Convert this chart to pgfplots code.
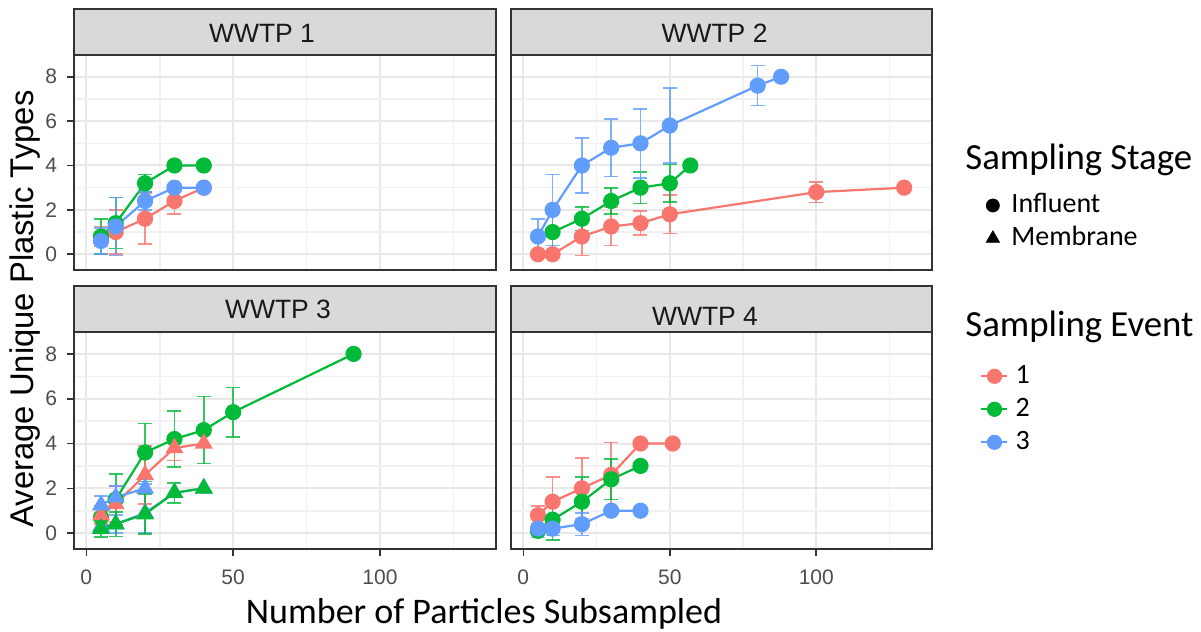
\documentclass[border=0pt]{standalone}
\usepackage{pgfplots}
\pgfplotsset{compat=1.18}
\usepackage{fontspec}
\setmainfont{Liberation Sans}
\newfontfamily\calibri{Carlito}
\definecolor{c1}{HTML}{F8766D}
\definecolor{c2}{HTML}{00BA38}
\definecolor{c3}{HTML}{619CFF}
\definecolor{gridmaj}{HTML}{E8E8E8}
\definecolor{gridmin}{HTML}{F1F1F1}
\definecolor{bord}{HTML}{333333}
\definecolor{stripc}{HTML}{D9D9D9}
\definecolor{tickc}{HTML}{4D4D4D}
\pgfplotsset{
  panel/.style={scale only axis, width=211pt, height=107.5pt,
    xmin=-4.2, xmax=139.5, ymin=-0.71, ymax=8.98,
    xtick={0,50,100}, ytick={0,2,4,6,8},
    minor xtick={25,75,125}, minor ytick={1,3,5,7},
    grid=both,
    major grid style={draw=gridmaj, line width=1pt},
    minor grid style={draw=gridmin, line width=0.8pt},
    axis line style={draw=bord, line width=1.1pt},
    tick align=outside, major tick length=3.5pt, minor tick length=0pt,
    every tick/.append style={draw=bord, line width=0.8pt},
    xtick pos=bottom, ytick pos=left,
    ticklabel style={font=\fontsize{10.5}{12}\selectfont, text=tickc},
    xticklabel style={yshift=-3.5pt},
    yticklabel style={xshift=-1.5pt},
    /pgf/number format/assume math mode=true,
  },
  ser/.style={color=#1, line width=1.1pt, mark=*, mark size=3.5pt, mark options={solid}},
  tri/.style={color=#1, line width=1.1pt, mark=triangle*, mark size=4.1pt, mark options={solid}},
  eb/.style={color=#1, only marks, mark=none, forget plot,
    error bars/.cd, y dir=both, y explicit,
    error bar style={line width=0.8pt, opacity=0.8},
    error mark options={line width=0.8pt, opacity=0.8, mark size=3.5pt, rotate=90}},
  legimg/.style={legend image code/.code={\draw[mark repeat=2,mark phase=2,##1] plot coordinates {(0pt,0pt) (6.5pt,0pt) (13pt,0pt)};}},
}
\begin{document}
\begin{tikzpicture}
\path[use as bounding box] (0,0) rectangle (600.5pt,316pt);
% strips
\draw[fill=stripc, draw=bord, line width=0.9pt] (37pt,288.5pt) rectangle (248pt,311.5pt);
\draw[fill=stripc, draw=bord, line width=0.9pt] (255.5pt,288.5pt) rectangle (466pt,311.5pt);
\draw[fill=stripc, draw=bord, line width=0.9pt] (37pt,150pt) rectangle (248pt,173pt);
\draw[fill=stripc, draw=bord, line width=0.9pt] (255.5pt,150pt) rectangle (466pt,173pt);
\node[font=\fontsize{13.25}{15}\selectfont, text=black!90] at (131pt,299.5pt) {WWTP 1};
\node[font=\fontsize{13.25}{15}\selectfont, text=black!90] at (357.25pt,299.5pt) {WWTP 2};
\node[font=\fontsize{13.25}{15}\selectfont, text=black!90] at (139pt,161.5pt) {WWTP 3};
\node[font=\fontsize{13.25}{15}\selectfont, text=black!90] at (352.5pt,158pt) {WWTP 4};

% WWTP 1
\begin{axis}[panel, at={(37pt,181pt)}, anchor=south west, xticklabels={}, xtick style={draw=none}]
\addplot[eb=c1] table[x=x,y=y,y error=e] {
x y e
5 0.8 0.45
10 1.0 1.0
20 1.6 1.13
30 2.4 0.58
};
\addplot[ser=c1] table[x=x,y=y] {
x y
5 0.8
10 1.0
20 1.6
30 2.4
40 3.0
};
\addplot[eb=c2] table[x=x,y=y,y error=e] {
x y e
5 0.8 0.8
10 1.4 1.15
20 3.2 0.4
};
\addplot[ser=c2] table[x=x,y=y] {
x y
5 0.8
10 1.4
20 3.2
30 4.0
40 4.0
};
\addplot[eb=c3] table[x=x,y=y,y error=e] {
x y e
5 0.6 0.58
10 1.25 1.3
20 2.4 0.4
};
\addplot[ser=c3] table[x=x,y=y] {
x y
5 0.6
10 1.25
20 2.4
30 3.0
40 3.0
};
\end{axis}

% WWTP 2
\begin{axis}[panel, at={(255.5pt,181pt)}, anchor=south west, width=210.5pt,
  xticklabels={}, yticklabels={}, xtick style={draw=none}, ytick style={draw=none},
  legend style={at={(axis description cs:1.128,0.2233)}, anchor=west, draw=none, fill=none,
    font=\calibri\fontsize{14}{16}\selectfont, row sep=3.5pt, inner sep=0pt,
    nodes={inner sep=0pt, text height=10pt, text depth=3pt}, column sep=6pt},
  legend cell align=left]
\addlegendimage{only marks, mark=*, black, mark size=3.25pt, legimg}
\addlegendentry{Influent}
\addlegendimage{only marks, mark=triangle*, black, mark size=3.8pt, legimg}
\addlegendentry{Membrane}
\addplot[eb=c1] table[x=x,y=y,y error=e] {
x y e
20 0.8 0.85
30 1.25 0.85
40 1.4 0.54
50 1.8 0.86
100 2.8 0.46
};
\addplot[ser=c1] table[x=x,y=y] {
x y
5 0
10 0
20 0.8
30 1.25
40 1.4
50 1.8
100 2.8
130 3.0
};
\addplot[eb=c2] table[x=x,y=y,y error=e] {
x y e
10 1.0 1.0
20 1.6 0.53
30 2.4 0.58
40 3.0 0.72
50 3.2 0.85
};
\addplot[ser=c2] table[x=x,y=y] {
x y
10 1.0
20 1.6
30 2.4
40 3.0
50 3.2
57 4.0
};
\addplot[eb=c3] table[x=x,y=y,y error=e] {
x y e
5 0.8 0.8
10 2.0 1.6
20 4.0 1.24
30 4.8 1.3
40 5.0 1.55
50 5.8 1.7
80 7.6 0.9
};
\addplot[ser=c3] table[x=x,y=y] {
x y
5 0.8
10 2.0
20 4.0
30 4.8
40 5.0
50 5.8
80 7.6
88 8.0
};
\end{axis}

% WWTP 3
\begin{axis}[panel, at={(37pt,41.5pt)}, anchor=south west, height=108.5pt]
\addplot[eb=c3] table[x=x,y=y,y error=e] {
x y e
5 0.3 0.3
10 0.4 0.4
20 0.9 0.9
};
\addplot[tri=c3] table[x=x,y=y] {
x y
5 0.3
10 0.4
20 0.9
30 1.8
40 2.0
};
\addplot[eb=c2] table[x=x,y=y,y error=e] {
x y e
5 0.7 0.5
10 1.5 1.15
20 3.6 1.3
30 4.2 1.25
40 4.6 1.5
50 5.4 1.1
};
\addplot[ser=c2] table[x=x,y=y] {
x y
5 0.7
10 1.5
20 3.6
30 4.2
40 4.6
50 5.4
91 8.0
};
\addplot[eb=c1] table[x=x,y=y,y error=e] {
x y e
5 0.8 0.4
10 1.3 0.8
20 2.6 1.3
30 3.8 0.55
};
\addplot[tri=c1] table[x=x,y=y] {
x y
5 0.8
10 1.3
20 2.6
30 3.8
40 4.0
};
\addplot[eb=c3] table[x=x,y=y,y error=e] {
x y e
5 1.25 0.4
10 1.6 0.5
20 2.0 0.2
};
\addplot[tri=c3] table[x=x,y=y] {
x y
5 1.25
10 1.6
20 2.0
};
\addplot[eb=c2] table[x=x,y=y,y error=e] {
x y e
5 0.2 0.38
10 0.4 0.55
20 0.85 0.9
30 1.8 0.45
};
\addplot[tri=c2] table[x=x,y=y] {
x y
5 0.2
10 0.4
20 0.85
30 1.8
40 2.0
};
\end{axis}

% WWTP 4
\begin{axis}[panel, at={(255.5pt,41.5pt)}, anchor=south west, width=210.5pt, height=108.5pt,
  yticklabels={}, ytick style={draw=none},
  legend style={at={(axis description cs:1.114,0.6438)}, anchor=west, draw=none, fill=none,
    font=\calibri\fontsize{14}{16}\selectfont, row sep=3.5pt, inner sep=0pt,
    nodes={inner sep=0pt, text height=10pt, text depth=3pt}, column sep=3.5pt},
  legend cell align=left]
\addlegendimage{c1, line width=1.1pt, mark=*, mark size=3.25pt, legimg}
\addlegendentry{1}
\addlegendimage{c2, line width=1.1pt, mark=*, mark size=3.25pt, legimg}
\addlegendentry{2}
\addlegendimage{c3, line width=1.1pt, mark=*, mark size=3.25pt, legimg}
\addlegendentry{3}
\addplot[eb=c1] table[x=x,y=y,y error=e] {
x y e
5 0.8 0.4
10 1.4 1.1
20 2.0 1.35
30 2.6 1.45
};
\addplot[ser=c1] table[x=x,y=y] {
x y
5 0.8
10 1.4
20 2.0
30 2.6
40 4.0
51 4.0
};
\addplot[eb=c2] table[x=x,y=y,y error=e] {
x y e
10 0.6 0.9
20 1.4 1.1
30 2.4 0.9
};
\addplot[ser=c2] table[x=x,y=y] {
x y
5 0.1
10 0.6
20 1.4
30 2.4
40 3.0
};
\addplot[eb=c3] table[x=x,y=y,y error=e] {
x y e
5 0.2 0.4
10 0.2 0.3
20 0.4 0.5
};
\addplot[ser=c3] table[x=x,y=y] {
x y
5 0.2
10 0.2
20 0.4
30 1.0
40 1.0
};
\end{axis}

\node[anchor=base, inner sep=0pt, font=\calibri\fontsize{18}{21}\selectfont] at (242pt,4.35pt) {Number of Particles Subsampled};
\node[rotate=90, anchor=base, inner sep=0pt, font=\fontsize{16.4}{19}\selectfont] at (17pt,161.5pt) {Average Unique Plastic Types};
\node[anchor=base west, inner sep=0pt, font=\calibri\fontsize{18.4}{21}\selectfont] at (482.5pt,231pt) {Sampling Stage};
\node[anchor=base west, inner sep=0pt, font=\calibri\fontsize{18.4}{21}\selectfont] at (482.5pt,147.65pt) {Sampling Event};
\end{tikzpicture}
\end{document}
